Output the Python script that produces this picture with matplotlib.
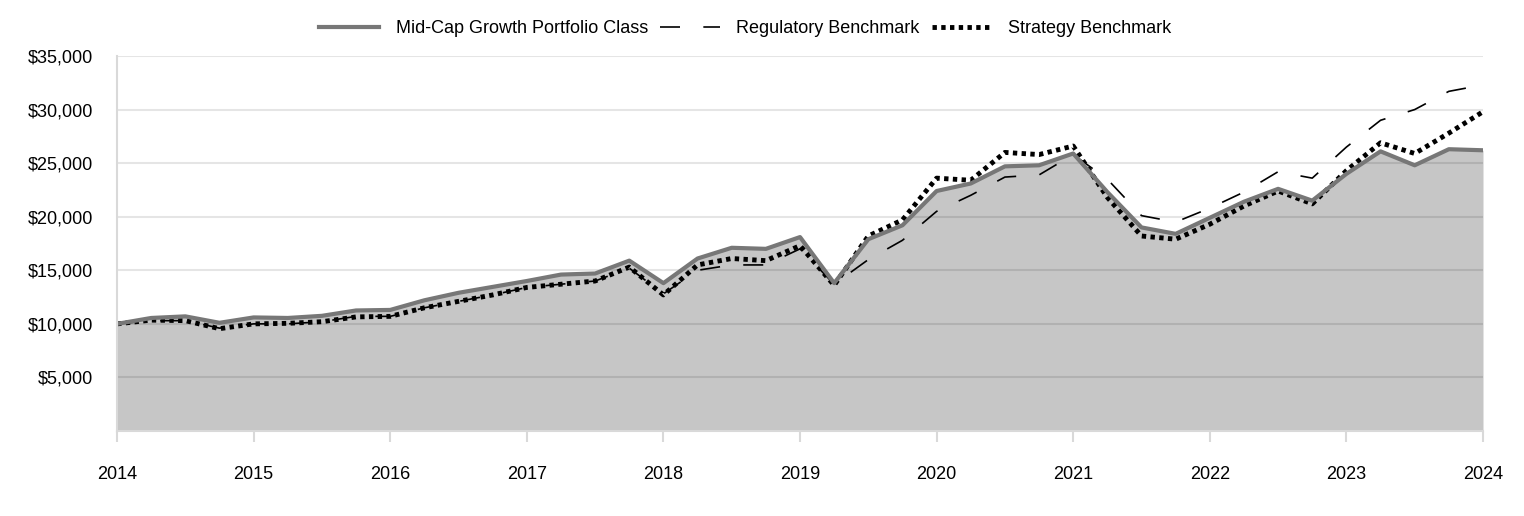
import matplotlib
matplotlib.use("Agg")
import matplotlib.pyplot as plt
from matplotlib.ticker import FuncFormatter

# quarterly values, 2014 Q1 .. 2024 Q1
years = [2014 + 0.25 * i for i in range(41)]

portfolio = [10000, 10550, 10700, 10100, 10600, 10550, 10750, 11250, 11300, 12200,
             12900, 13450, 14000, 14600, 14700, 15900, 13800, 16100, 17100, 17000,
             18100, 13800, 17900, 19200, 22400, 23100, 24700, 24800, 25900, 22300,
             19000, 18400, 19900, 21400, 22600, 21500, 24000, 26100, 24800, 26300,
             26200]

regulatory = [10000, 10300, 10300, 9600, 10000, 10000, 10200, 10700, 10700, 11500,
              12100, 12700, 13400, 13700, 14000, 15200, 12800, 15000, 15500, 15500,
              17000, 13700, 16000, 17800, 20500, 22000, 23700, 23900, 25800, 23500,
              20100, 19500, 20800, 22300, 24200, 23600, 26500, 29000, 30000, 31700,
              32300]

strategy = [10000, 10350, 10300, 9550, 10000, 10050, 10200, 10650, 10700, 11500,
            12100, 12700, 13400, 13700, 14000, 15300, 12700, 15500, 16100, 15900,
            17300, 13600, 18200, 19700, 23600, 23400, 26000, 25800, 26600, 21800,
            18200, 17900, 19300, 21000, 22400, 21200, 24300, 26900, 25900, 27800,
            29800]

year_ticks = list(range(2014, 2025))
y_ticks = [5000, 10000, 15000, 20000, 25000, 30000, 35000]

plt.rcParams['font.family'] = ['Liberation Sans', 'DejaVu Sans']

fig = plt.figure(figsize=(15.24, 5.16), dpi=100)
ax = fig.add_axes([0.0768, 0.1647, 0.8963, 0.7268])

ax.fill_between(years, portfolio, 0, color="#c6c6c6", linewidth=0, zorder=1)
ax.plot(years, portfolio, color="#777777", linewidth=3, zorder=4,
        label="Mid-Cap Growth Portfolio Class", solid_joinstyle="round")
ax.plot(years, regulatory, color="black", linewidth=1.2, dashes=(12, 14), zorder=3,
        label="Regulatory Benchmark")
ax.plot(years, strategy, color="black", linewidth=3.5, dashes=(0.9, 0.9), zorder=3,
        label="Strategy Benchmark")

ax.set_xlim(2014, 2024)
ax.set_ylim(0, 35000)
ax.set_xticks(year_ticks)
ax.set_xticklabels([str(y) for y in year_ticks])
ax.set_yticks(y_ticks)
ax.yaxis.set_major_formatter(FuncFormatter(lambda v, p: "${:,.0f}".format(v)))

ax.grid(axis="y", color="black", alpha=0.1, linewidth=1.5, zorder=2)
ax.set_axisbelow(False)
for s in ["top", "right"]:
    ax.spines[s].set_visible(False)
for s in ["left", "bottom"]:
    ax.spines[s].set_color("#d9d9d9")
    ax.spines[s].set_linewidth(1.5)
    ax.spines[s].set_zorder(5)

ax.tick_params(axis="y", length=0, pad=17, labelsize=13)
ax.tick_params(axis="x", length=8, width=1.5, color="#d9d9d9", pad=17, labelsize=13)

ax.legend(loc="center", bbox_to_anchor=(0.46, 1.072), ncol=3, frameon=False,
          fontsize=13, handlelength=3.3, columnspacing=0.66, handletextpad=0.94)

fig.savefig("out.png", dpi=100)
